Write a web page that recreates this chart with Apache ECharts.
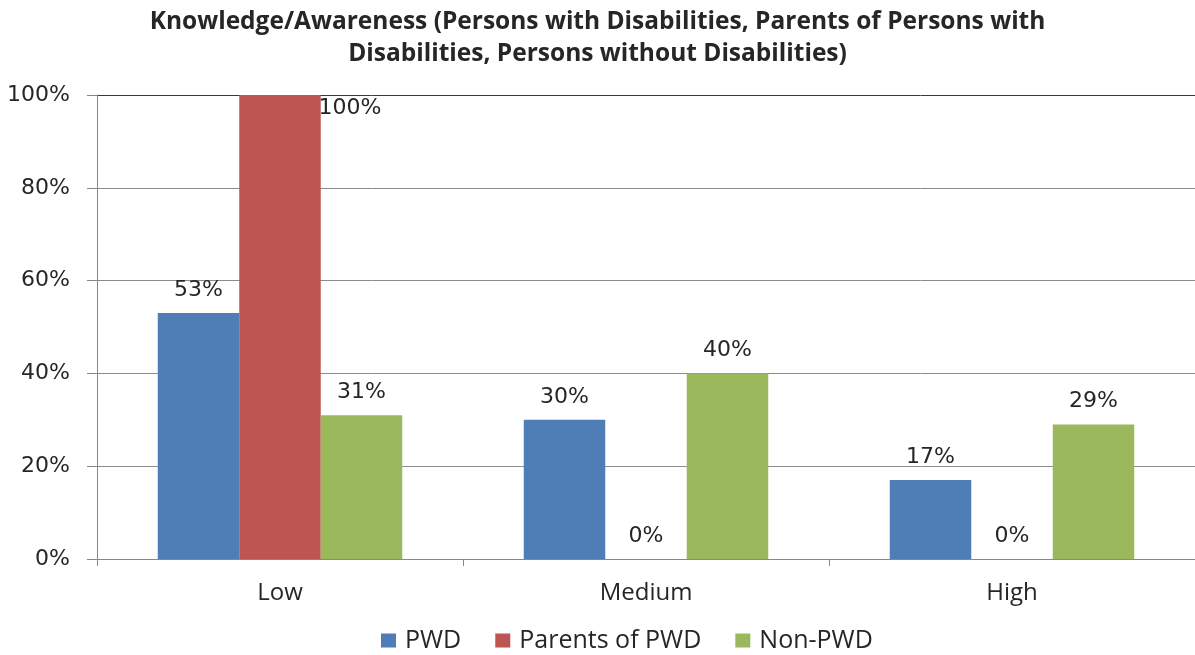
<!DOCTYPE html>
<html>
<head>
    <meta http-equiv="Content-Type" content="text/html; charset=utf-8"/>
    <script src="https://cdn.jsdelivr.net/npm/echarts@6/dist/echarts.min.js"></script>
    <style>
        html, body { margin: 0; padding: 0; background: #fff; }
    </style>
</head>
<body>

<div id="chart" style="width: 1195px; height: 655px;"></div>

<script type="text/javascript">
    // categories and values (percent)
    var categories = ['Low', 'Medium', 'High'];
    var pwd = [53, 30, 17];
    var parentsPwd = [100, 0, 0];
    var nonPwd = [31, 40, 29];
    var yTicks = [0, 20, 40, 60, 80, 100];

    var numFont = 'DejaVu Sans';
    var textFont = 'Open Sans';

    function makeData(arr) {
        return arr.map(function (v) {
            // the 100% label sits beside the bar top, like the original
            if (v === 100) {
                return {value: v, label: {position: 'insideTop', distance: 2, offset: [70, 0]}};
            }
            return v;
        });
    }

    var chart = echarts.init(document.getElementById('chart'));
    var option = {
        animation: false,
        title: {
            text: 'Knowledge/Awareness (Persons with Disabilities, Parents of Persons with\nDisabilities, Persons without Disabilities)',
            left: 'center',
            top: 1,
            textStyle: {
                fontFamily: textFont,
                fontWeight: 'bold',
                fontSize: 24.5,
                lineHeight: 32,
                color: '#262626'
            }
        },
        color: ['#4f7db5', '#bd5552', '#9bb85c'],
        grid: {
            left: 97,
            right: -3,
            top: 95,
            bottom: 96,
            containLabel: false
        },
        legend: {
            bottom: -3,
            left: 376,
            itemWidth: 15,
            itemHeight: 14,
            itemGap: 34,
            icon: 'rect',
            textStyle: {
                fontFamily: textFont,
                fontSize: 25,
                color: '#262626',
                padding: [0, 0, 0, 4]
            },
            data: ['PWD', 'Parents of PWD', 'Non-PWD']
        },
        xAxis: {
            type: 'category',
            data: categories,
            axisLine: {lineStyle: {color: '#888', width: 1}},
            axisTick: {show: true, length: 7, alignWithLabel: false, lineStyle: {color: '#888'}},
            axisLabel: {
                margin: 22,
                fontFamily: textFont,
                fontSize: 24,
                color: '#262626'
            }
        },
        yAxis: {
            type: 'value',
            min: yTicks[0],
            max: yTicks[yTicks.length - 1],
            interval: 20,
            axisLine: {show: true, lineStyle: {color: '#888'}},
            axisTick: {show: true, length: 10, lineStyle: {color: '#888'}},
            splitLine: {
                show: true,
                lineStyle: {color: ['#8c8c8c', '#8c8c8c', '#8c8c8c', '#8c8c8c', '#8c8c8c', '#3a3a3a']}
            },
            axisLabel: {
                formatter: '{value}%',
                margin: 27,
                fontFamily: numFont,
                fontSize: 22,
                color: '#262626'
            }
        },
        series: [
            {name: 'PWD', type: 'bar', data: makeData(pwd)},
            {name: 'Parents of PWD', type: 'bar', data: makeData(parentsPwd)},
            {name: 'Non-PWD', type: 'bar', data: makeData(nonPwd)}
        ].map(function (s) {
            s.barGap = '0%';
            s.barCategoryGap = '33.2%';
            s.label = {
                show: true,
                position: 'top',
                distance: 12,
                formatter: '{c}%',
                fontFamily: numFont,
                fontSize: 22,
                color: '#262626'
            };
            return s;
        })
    };

    chart.setOption(option);
</script>

</body>
</html>
